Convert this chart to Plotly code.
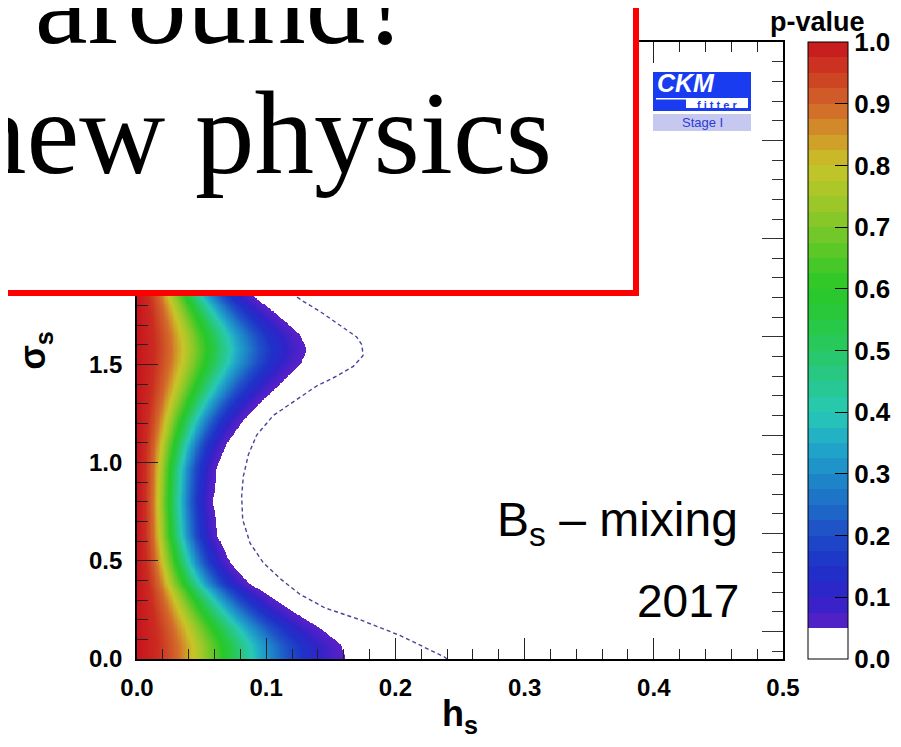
import numpy as np
import plotly.graph_objects as go

# ---------------- data ----------------
# sigma_s values and the h_s position of the p = 0.05 edge of the coloured region
sigma_edge = [0.0, 0.068, 0.153, 0.24, 0.306, 0.39, 0.49, 0.63, 0.80, 0.97, 1.10, 1.22,
              1.34, 1.44, 1.51, 1.58, 1.65, 1.71, 1.78, 1.85, 2.0, 2.3, 2.6, 2.9, 3.1416]
h_edge = [0.161, 0.158, 0.143, 0.121, 0.1055, 0.086, 0.072, 0.0617, 0.0586, 0.061, 0.069, 0.082,
          0.100, 0.116, 0.127, 0.131, 0.126, 0.116, 0.103, 0.090, 0.075, 0.062, 0.066, 0.090, 0.120]

# p-value profile across the band (h_s as a fraction of the p = 0.05 edge)
r_profile = [0.0, 0.1, 0.2, 0.3, 0.4, 0.5, 0.6, 0.7, 0.8, 0.9, 1.0, 1.2, 1.5, 2.0, 10.0]
p_profile = [1.0, 0.97, 0.89, 0.76, 0.62, 0.47, 0.34, 0.23, 0.15, 0.09, 0.05, 0.013, 0.001, 0.0, 0.0]

# dashed contour
sigma_dash = [0.0, 0.01, 0.12, 0.20, 0.26, 0.33, 0.41, 0.49, 0.59, 0.71, 0.83, 0.93, 1.04, 1.14,
              1.24, 1.32, 1.39, 1.44, 1.49, 1.545, 1.60, 1.64, 1.70, 1.77, 1.82, 1.86, 1.95]
h_dash = [0.240, 0.238, 0.2035, 0.1726, 0.1455, 0.126, 0.1107, 0.0978, 0.0875, 0.0818, 0.081,
          0.0823, 0.0862, 0.0926, 0.1055, 0.1236, 0.139, 0.1545, 0.1674, 0.175, 0.174, 0.170,
          0.157, 0.1416, 0.129, 0.120, 0.100]

x_ticks = [0.0, 0.1, 0.2, 0.3, 0.4, 0.5]
y_ticks = [0.0, 0.5, 1.0, 1.5, 2.0, 2.5, 3.0]
y_labels = ["0.0", "0.5", "1.0", "1.5", "", "", ""]   # upper labels are hidden behind the box
cb_ticks = [0.0, 0.1, 0.2, 0.3, 0.4, 0.5, 0.6, 0.7, 0.8, 0.9, 1.0]

# ---------------- field on a grid ----------------
h_grid = np.linspace(0.0, 0.5, 501)
s_grid = np.linspace(0.0, np.pi, 316)
edge_at_s = np.interp(s_grid, sigma_edge, h_edge)
ratio = h_grid[None, :] / edge_at_s[:, None]
z = np.round(np.interp(ratio, r_profile, p_profile), 4)

# ---------------- palette (ROOT-like rainbow) ----------------
anchors = [(0.05, (92, 32, 200)), (0.1, (48, 35, 200)), (0.15, (30, 50, 200)), (0.2, (30, 75, 200)),
           (0.25, (30, 110, 200)), (0.3, (30, 140, 200)), (0.35, (32, 170, 200)), (0.4, (40, 200, 180)),
           (0.45, (40, 200, 140)), (0.5, (40, 200, 100)), (0.55, (40, 200, 64)), (0.6, (40, 200, 40)),
           (0.65, (80, 200, 40)), (0.7, (125, 200, 40)), (0.75, (165, 200, 40)), (0.8, (200, 196, 40)),
           (0.85, (210, 150, 40)), (0.9, (210, 100, 42)), (0.95, (204, 60, 34)), (1.0, (200, 20, 30))]
ap = np.array([a[0] for a in anchors])
ac = np.array([a[1] for a in anchors], dtype=float)


def col(v):
    c = [np.interp(v, ap, ac[:, k]) for k in range(3)]
    return "rgb(%d,%d,%d)" % tuple(int(round(x)) for x in c)


# smooth scale for the plot area
smooth_scale = [[0.0, "white"], [0.0499, "white"]]
for v in np.arange(0.05, 1.0001, 0.025):
    smooth_scale.append([float(min(v, 1.0)), col(v)])

# stepped scale for the colour bar
step_scale = [[0.0, "white"], [0.05, "white"]]
lo = 0.05
while lo < 0.999:
    hi = min(lo + 0.025, 1.0)
    c = col((lo + hi) / 2)
    step_scale.append([lo, c])
    step_scale.append([hi, c])
    lo = hi

# ---------------- geometry (page pixels -> paper) ----------------
OFF = 8                       # default body margin of the html page
W, H = 901 - 2 * OFF, 747 - 2 * OFF
L, R, T, B = 137, 783, 42, 659  # plot area edges in page pixels


def fx(p):
    return (p - L) / (R - L)


def fy(p):
    return (B - p) / (B - T)


FONT = "Liberation Sans, Arial, Helvetica, sans-serif"
SERIF = "Liberation Serif, Times New Roman, serif"

fig = go.Figure()
fig.add_trace(go.Heatmap(
    x=h_grid, y=s_grid, z=z, zmin=0, zmax=1, zsmooth="best", colorscale=smooth_scale,
    hoverinfo="skip", showscale=False,
))
fig.add_trace(go.Scatter(
    x=h_dash, y=sigma_dash, mode="lines", hoverinfo="skip", showlegend=False,
    line=dict(color="#46469a", width=1.4, dash="4px,3px"),
))
# carrier of the colour bar
fig.add_trace(go.Scatter(
    x=[-1], y=[-1], mode="markers", hoverinfo="skip", showlegend=False,
    marker=dict(size=1, color=[0.5], cmin=0, cmax=1, colorscale=step_scale, showscale=True,
                colorbar=dict(
                    x=fx(808), xanchor="left", xpad=0, ypad=0, thickness=40, thicknessmode="pixels",
                    len=1, lenmode="fraction", y=0, yanchor="bottom",
                    outlinewidth=1, outlinecolor="black",
                    ticks="inside", ticklen=13, tickwidth=1.2, tickcolor="black",
                    tickvals=cb_ticks, ticktext=["%.1f" % v for v in cb_ticks],
                    tickfont=dict(family=FONT, size=26, color="black", weight="bold"),
                )),
))
fig.add_trace(go.Scatter(x=[None], y=[None], yaxis="y2", mode="lines", showlegend=False, hoverinfo="skip"))

tick_font = dict(family=FONT, size=24, color="black", weight="bold")
fig.update_layout(
    width=W, height=H, autosize=False,
    margin=dict(l=L - OFF, r=W - (R - OFF), t=T - OFF, b=H - (B - OFF), pad=0, autoexpand=False),
    paper_bgcolor="white", plot_bgcolor="white",
    showlegend=False,
    xaxis=dict(range=[0, 0.5], tickvals=x_ticks, ticktext=["%.1f" % v for v in x_ticks],
               ticks="inside", ticklen=21, tickwidth=1.3, tickcolor="#222",
               minor=dict(dtick=0.02, tick0=0, ticks="inside", ticklen=10, tickwidth=1.2, tickcolor="#222"),
               showline=True, linewidth=1.6, linecolor="black", mirror="ticks",
               showgrid=False, zeroline=False, tickfont=tick_font, ticklabelstandoff=6,
               title=dict(text="h<sub>s</sub>", font=dict(family=FONT, size=36, color="black", weight="bold"),
                          standoff=4)),
    yaxis=dict(range=[0, np.pi], tickvals=y_ticks, ticktext=y_labels,
               ticks="inside", ticklen=21, tickwidth=1.3, tickcolor="#222",
               minor=dict(dtick=0.1, tick0=0, ticks="inside", ticklen=11, tickwidth=1.2, tickcolor="#222"),
               showline=True, linewidth=1.6, linecolor="black", mirror=True,
               showgrid=False, zeroline=False, tickfont=tick_font, ticklabelstandoff=8,
               title=dict(text="σ<sub>s</sub>", font=dict(family=FONT, size=36, color="black", weight="bold"),
                          standoff=32)),
    yaxis2=dict(range=[0, np.pi], overlaying="y", side="right", showticklabels=False,
                tick0=0.14, dtick=0.5, ticks="inside", ticklen=21, tickwidth=1.3, tickcolor="#333",
                minor=dict(dtick=0.1, tick0=0.04, ticks="inside", ticklen=11, tickwidth=1.2, tickcolor="#333"),
                showline=False, showgrid=False, zeroline=False),
)

shapes = []
# CKMfitter logo
shapes.append(dict(type="rect", xref="paper", yref="paper", x0=fx(653), x1=fx(751), y0=fy(111), y1=fy(72),
                   fillcolor="#1a3cf0", line=dict(width=0), layer="above"))
shapes.append(dict(type="rect", xref="paper", yref="paper", x0=fx(686), x1=fx(748), y0=fy(108), y1=fy(98),
                   fillcolor="white", line=dict(width=0), layer="above"))
shapes.append(dict(type="rect", xref="paper", yref="paper", x0=fx(656), x1=fx(686), y0=fy(99.5), y1=fy(98),
                   fillcolor="white", line=dict(width=0), layer="above"))
shapes.append(dict(type="rect", xref="paper", yref="paper", x0=fx(653), x1=fx(751), y0=fy(131), y1=fy(114),
                   fillcolor="#c6c8ef", line=dict(width=0), layer="above"))
# red box
shapes.append(dict(type="rect", xref="paper", yref="paper", x0=fx(-30), x1=fx(636), y0=fy(293), y1=fy(-30),
                   fillcolor="white", line=dict(color="#ff0000", width=6), layer="above"))
fig.update_layout(shapes=shapes)

ann = []
ann.append(dict(text="CKM", x=fx(686), y=fy(97.5), xref="paper", yref="paper", showarrow=False,
                xanchor="center", yanchor="bottom", borderpad=0,
                font=dict(family=FONT, size=25, color="white", weight="bold", style="italic")))
ann.append(dict(text="f i t t e r", x=fx(717), y=fy(98), xref="paper", yref="paper", showarrow=False,
                xanchor="center", yanchor="top", borderpad=0,
                font=dict(family=FONT, size=11, color="#1a3cf0", weight="bold")))
ann.append(dict(text="Stage I", x=fx(702), y=fy(122.5), xref="paper", yref="paper", showarrow=False,
                xanchor="center", yanchor="middle",
                font=dict(family=FONT, size=13, color="#2a3cd8")))
ann.append(dict(text="B<sub>s</sub> – mixing", x=fx(740), y=fy(523), xref="paper", yref="paper",
                showarrow=False, xanchor="right", yanchor="middle",
                font=dict(family=FONT, size=48, color="black")))
ann.append(dict(text="2017", x=fx(741), y=fy(601), xref="paper", yref="paper",
                showarrow=False, xanchor="right", yanchor="middle",
                font=dict(family=FONT, size=46, color="black")))
ann.append(dict(text="p-value", x=fx(817), y=fy(22), xref="paper", yref="paper",
                showarrow=False, xanchor="center", yanchor="middle",
                font=dict(family=FONT, size=27, color="black", weight="bold")))
ann.append(dict(text="t around!", x=fx(407), y=fy(3), xref="paper", yref="paper",
                showarrow=False, xanchor="right", yanchor="middle",
                font=dict(family=SERIF, size=119, color="black")))
ann.append(dict(text="new physics", x=fx(554), y=fy(133), xref="paper", yref="paper",
                showarrow=False, xanchor="right", yanchor="middle",
                font=dict(family=SERIF, size=119, color="black")))
fig.update_layout(annotations=ann)

fig.write_html("out.html")
